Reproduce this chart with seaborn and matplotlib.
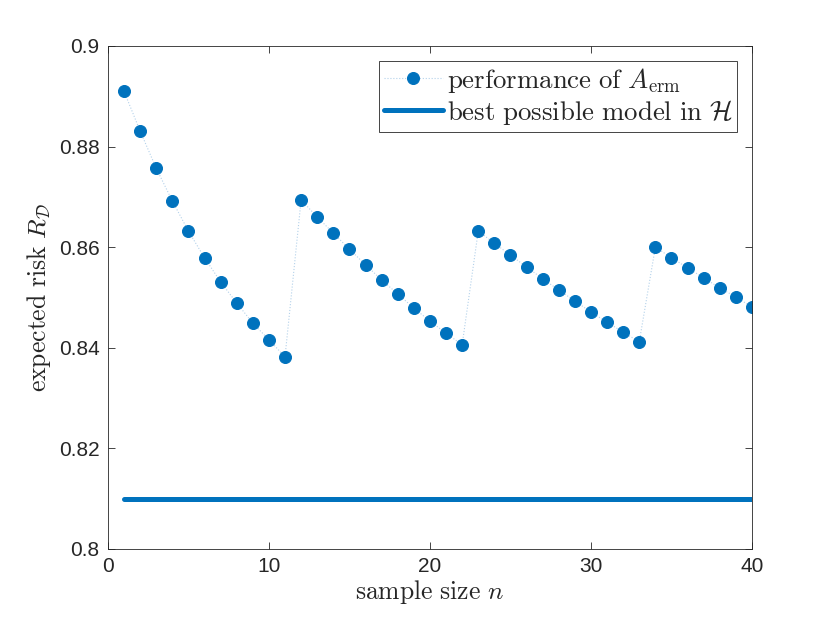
import matplotlib
matplotlib.use("Agg")
import matplotlib.pyplot as plt
import seaborn as sns
import pandas as pd
from matplotlib.ticker import FuncFormatter

# ---- data ----
sample_size = list(range(1, 41))
risk = [0.8910, 0.8831, 0.8757, 0.8692, 0.8632, 0.8579, 0.8531, 0.8489, 0.8449, 0.8416,
        0.8382, 0.8694, 0.8660, 0.8628, 0.8596, 0.8565, 0.8535, 0.8507, 0.8479, 0.8453,
        0.8429, 0.8406, 0.8632, 0.8608, 0.8584, 0.8561, 0.8537, 0.8515, 0.8493, 0.8471,
        0.8451, 0.8431, 0.8412, 0.8600, 0.8579, 0.8559, 0.8539, 0.8519, 0.8501, 0.8481]
best_risk = [0.81] * len(sample_size)
x_ticks = [0, 10, 20, 30, 40]
y_ticks = [0.80, 0.82, 0.84, 0.86, 0.88, 0.90]

df = pd.DataFrame({"n": sample_size, "risk": risk, "best": best_risk})

sns.set_theme(style="ticks")
plt.rcParams["font.family"] = ["Liberation Sans", "DejaVu Sans"]
plt.rcParams["mathtext.fontset"] = "cm"

BLUE = "#0072BD"
DARK = "#262626"

fig = plt.figure(figsize=(8.3, 6.23), dpi=100)
ax = fig.add_axes([0.130, 0.1188, 0.776, 0.8074])

sns.lineplot(data=df, x="n", y="risk", ax=ax, color="#b3d1ea", linestyle=":",
             linewidth=0.8, marker="o", markersize=8.6, markerfacecolor=BLUE,
             markeredgecolor=BLUE, label=r"$\mathrm{performance\ of}\ A_{\mathrm{erm}}$")
sns.lineplot(data=df, x="n", y="best", ax=ax, color=BLUE, linewidth=3.6,
             label=r"$\mathrm{best\ possible\ model\ in}\ \mathcal{H}$")

ax.set_xlim(0, 40)
ax.set_ylim(0.8, 0.9)
ax.set_xticks(x_ticks)
ax.set_yticks(y_ticks)
ax.yaxis.set_major_formatter(FuncFormatter(lambda v, p: ("%.2f" % v).rstrip("0")))

ax.tick_params(direction="in", length=5, width=0.6, colors=DARK, labelsize=15,
               top=True, right=True, pad=6)
for s in ax.spines.values():
    s.set_visible(True)
    s.set_color(DARK)
    s.set_linewidth(0.6)

ax.set_xlabel(r"$\mathrm{sample\ size}\ n$", fontsize=18.5, color=DARK, labelpad=1)
ax.set_ylabel(r"$\mathrm{expected\ risk}\ R_{\mathcal{D}}$", fontsize=18.5, color=DARK, labelpad=4)

leg = ax.legend(loc="upper right", fontsize=19.3, frameon=True, fancybox=False,
                edgecolor=DARK, framealpha=1, borderpad=0.18, handlelength=2.2,
                handletextpad=0.15, labelspacing=0.12, borderaxespad=0.55)
leg.get_frame().set_linewidth(0.6)

fig.savefig("out.png", dpi=100)
